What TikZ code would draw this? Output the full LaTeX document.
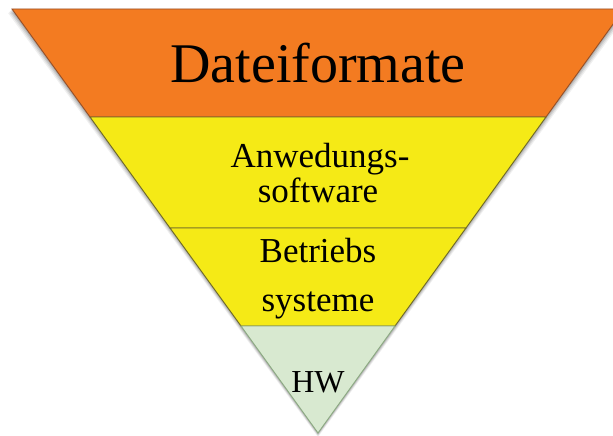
\documentclass[tikz,border=0pt]{standalone}
\usepackage{fontspec}
\setmainfont{Liberation Serif}
\definecolor{bandorange}{RGB}{243,123,33}
\definecolor{bandyellow}{RGB}{245,234,22}
\definecolor{bandgreen}{RGB}{216,233,208}
\definecolor{edgeorange}{RGB}{150,80,40}
\definecolor{edgeyellow}{RGB}{110,105,40}
\definecolor{edgegreen}{RGB}{140,170,130}
\tikzset{
  band/.style={line width=0.9pt, line join=miter},
  label/.style={anchor=base, inner sep=0pt, text=black},
}
\begin{document}
\begin{tikzpicture}[x=1pt,y=-1pt]
\useasboundingbox (0,0) rectangle (613,436);
\clip (0,0) rectangle (613,436);
% soft shadow
\foreach \o/\a in {4/0.06,3/0.08,2/0.10,1/0.12}{
  \fill[black,opacity=\a] (12-\o,9+\o) -- (624+\o,9+\o) -- (318,433+\o) -- cycle;
}
% bands
\draw[band, fill=bandorange, draw=edgeorange] (12,9) -- (624,9) -- (546,117) -- (90,117) -- cycle;
\draw[band, fill=bandyellow, draw=edgeyellow] (90,117) -- (546,117) -- (466,228) -- (170,228) -- cycle;
\draw[band, fill=bandyellow, draw=edgeyellow] (170,228) -- (466,228) -- (395,326) -- (241,326) -- cycle;
\draw[band, fill=bandgreen, draw=edgegreen] (241,326) -- (395,326) -- (318,433) -- cycle;
% labels
\node[label, font=\fontsize{56}{62}\selectfont] (datei) at (318,82) {Dateiformate};
\node[label, font=\fontsize{35}{40}\selectfont] (anw1) at (320,167) {Anwedungs-};
\node[label, font=\fontsize{35}{40}\selectfont] (anw2) at (318,202) {software};
\node[label, font=\fontsize{35}{40}\selectfont] (bet1) at (318,262) {Betriebs};
\node[label, font=\fontsize{35}{40}\selectfont] (bet2) at (318,311) {systeme};
\node[label, font=\fontsize{32}{36}\selectfont] (hw) at (318,392) {HW};
\end{tikzpicture}
\end{document}
